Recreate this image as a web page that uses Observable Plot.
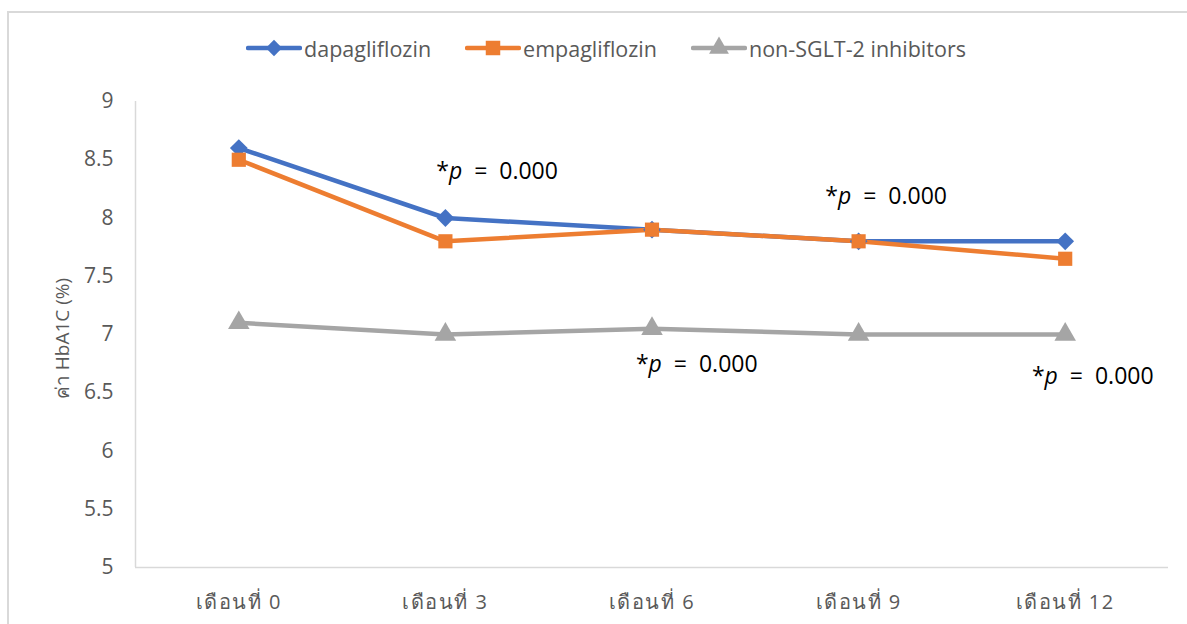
<!DOCTYPE html>
<html>
<head>
<meta charset="utf-8">
<script src="https://cdn.jsdelivr.net/npm/d3@7"></script>
<script src="https://cdn.jsdelivr.net/npm/@observablehq/plot@0.6"></script>
<style>
  html, body { margin: 0; padding: 0; background: #fff; }
  #chart { position: relative; width: 1187px; height: 624px; overflow: hidden; font-family: "Open Sans", "Noto Sans", sans-serif; }
  #frame { position: absolute; left: 7px; top: 11px; width: 1300px; height: 700px; border-left: 2px solid #d9d9d9; border-top: 2px solid #d9d9d9; box-sizing: border-box; }
  #legend { position: relative; height: 80px; display: flex; justify-content: center; align-items: center; padding-top: 16px; padding-left: 25px; box-sizing: border-box; gap: 34px; color: #595959; font-size: 21.5px; }
  .item { display: flex; align-items: center; gap: 2px; }
  #plot { position: relative; }
</style>
</head>
<body>
<div id="chart">
  <div id="frame"></div>
  <div id="legend"></div>
  <div id="plot"></div>
</div>
<script>
// Follow-up months and mean HbA1C (%) per treatment group
const months = [0, 3, 6, 9, 12];
const dapagliflozin = [8.6, 8.0, 7.9, 7.8, 7.8];
const empagliflozin = [8.5, 7.8, 7.9, 7.8, 7.65];
const nonSGLT2 = [7.1, 7.0, 7.05, 7.0, 7.0];

const seriesNames = ["dapagliflozin", "empagliflozin", "non-SGLT-2 inhibitors"];
const seriesColors = ["#4472C4", "#ED7D31", "#A5A5A5"];
const seriesSymbols = ["diamond2", "square", "triangle"];

const yTicks = [5, 5.5, 6, 6.5, 7, 7.5, 8, 8.5, 9];
const yLabel = "ค่า HbA1C (%)";
const monthPrefix = "เดือนที่ ";

// Significance notes, placed in (month, HbA1C) space
const noteMonth = [3.75, 6.65, 9.4, 12.4];
const noteValue = [8.4, 6.74, 8.18, 6.64];
const noteText = ["*p = 0.000", "*p = 0.000", "*p = 0.000", "*p = 0.000"];

const seriesValues = [dapagliflozin, empagliflozin, nonSGLT2];
const rows = seriesNames.flatMap((name, i) =>
  months.map((m, j) => ({series: name, month: m, value: seriesValues[i][j]}))
);
const notes = noteMonth.map((m, i) => ({month: m, value: noteValue[i], text: noteText[i]}));

// Legend
const legend = d3.select("#legend");
seriesNames.forEach((name, i) => {
  const item = legend.append("div").attr("class", "item");
  const svg = item.append("svg").attr("width", 56).attr("height", 24);
  svg.append("line").attr("x1", 2).attr("x2", 54).attr("y1", 12).attr("y2", 12)
    .attr("stroke", seriesColors[i]).attr("stroke-width", 4.5).attr("stroke-linecap", "round");
  const sym = {diamond2: d3.symbolDiamond2, square: d3.symbolSquare, triangle: d3.symbolTriangle}[seriesSymbols[i]];
  const size = {diamond2: 170, square: 210, triangle: 170}[seriesSymbols[i]];
  svg.append("path").attr("transform", "translate(28,12)")
    .attr("d", d3.symbol(sym, size)()).attr("fill", seriesColors[i]);
  item.append("span").text(name);
});

const chart = Plot.plot({
  width: 1187,
  height: 544,
  marginTop: 21,
  marginBottom: 57,
  marginLeft: 135,
  marginRight: 19,
  style: {fontFamily: "'Open Sans', 'Noto Sans', sans-serif", fontSize: "21px", color: "#595959", background: "transparent"},
  x: {domain: [-1.5, 13.5], ticks: months, tickFormat: d => monthPrefix + d, tickSize: 0, tickPadding: 27, label: null},
  y: {domain: [5, 9], ticks: yTicks, tickFormat: d => String(d), tickSize: 0, tickPadding: 22, label: null},
  color: {domain: seriesNames, range: seriesColors},
  symbol: {domain: seriesNames, range: seriesSymbols},
  marks: [
    Plot.ruleX([-1.5], {stroke: "#d9d9d9", strokeWidth: 1.5}),
    Plot.ruleY([5], {stroke: "#d9d9d9", strokeWidth: 1.5}),
    Plot.line(rows, {x: "month", y: "value", z: "series", stroke: "series", strokeWidth: 4.5, strokeLinejoin: "round", strokeLinecap: "round"}),
    Plot.dot(rows, {x: "month", y: "value", fill: "series", symbol: "series", r: 8, stroke: "none"}),
    Plot.text(notes, {x: "month", y: "value", text: "text", fontSize: 23, fill: "#000", className: "pnote"}),
    Plot.text([yLabel], {frameAnchor: "left", textAnchor: "middle", dx: -73, dy: 4, rotate: -90, fontSize: 19, fill: "#595959"})
  ]
});
document.getElementById("plot").appendChild(chart);

// Thai month labels are set a little wider
d3.select(chart).selectAll("[aria-label='x-axis tick label'] text").attr("letter-spacing", "1.5px").attr("font-size", 20);

// Italic "p" in the significance notes
d3.select(chart).selectAll(".pnote text").each(function () {
  const t = d3.select(this);
  const s = t.text();
  t.text(null);
  t.append("tspan").text(s.slice(0, 1));
  t.append("tspan").attr("font-style", "italic").text(s.slice(1, 2));
  t.append("tspan").text(s.slice(2).replace(" = ", "  =  ")).attr("xml:space", "preserve");
});
</script>
</body>
</html>
